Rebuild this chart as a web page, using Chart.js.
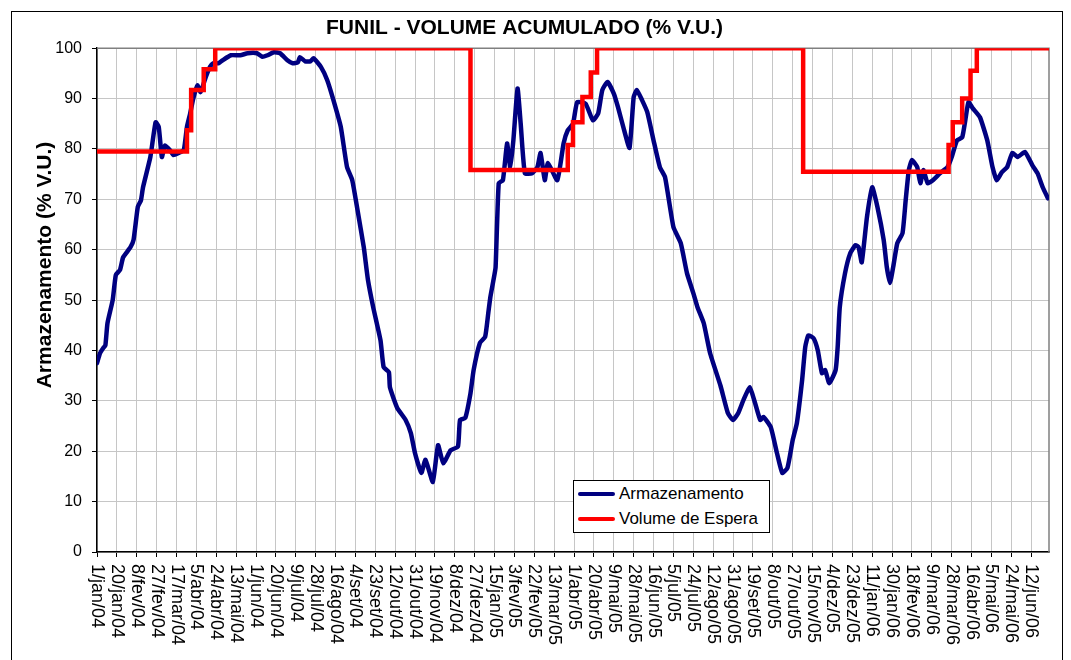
<!DOCTYPE html>
<html lang="pt">
<head>
<meta charset="utf-8">
<title>FUNIL - Volume Acumulado</title>
<script src="https://cdn.jsdelivr.net/npm/chart.js@4/dist/chart.umd.min.js"></script>
<style>
  html, body { margin: 0; padding: 0; background: #fff; }
  #wrap { position: relative; width: 1071px; height: 660px; overflow: hidden; }
  #frame {
    position: absolute; left: 11px; top: 11px; width: 1052px; height: 700px;
    border: 1px solid #000; box-sizing: border-box; pointer-events: none;
  }
  #legend {
    position: absolute; left: 573px; top: 480px; width: 197px; height: 53px;
    border: 1px solid #000; background: #fff; box-sizing: border-box;
    font: 17px Arial, "Liberation Sans", sans-serif; color: #000;
  }
  #legend .row { position: absolute; left: 4px; height: 22px; display: flex; align-items: center; white-space: nowrap; }
  #legend .swatch { width: 37px; height: 4px; margin-right: 4px; border-radius: 2px; }
</style>
</head>
<body>
<div id="wrap">
  <canvas id="chart" width="1071" height="660"></canvas>
  <div id="frame"></div>
  <div id="legend"></div>
</div>
<script>
// ─── Data ─────────────────────────────────────────────
// x values are days counted from 1/jan/04
const tickLabels = [
  '1/jan/04', '20/jan/04', '8/fev/04', '27/fev/04', '17/mar/04', '5/abr/04', '24/abr/04',
  '13/mai/04', '1/jun/04', '20/jun/04', '9/jul/04', '28/jul/04', '16/ago/04', '4/set/04',
  '23/set/04', '12/out/04', '31/out/04', '19/nov/04', '8/dez/04', '27/dez/04', '15/jan/05',
  '3/fev/05', '22/fev/05', '13/mar/05', '1/abr/05', '20/abr/05', '9/mai/05', '28/mai/05',
  '16/jun/05', '5/jul/05', '24/jul/05', '12/ago/05', '31/ago/05', '19/set/05', '8/out/05',
  '27/out/05', '15/nov/05', '4/dez/05', '23/dez/05', '11/jan/06', '30/jan/06', '18/fev/06',
  '9/mar/06', '28/mar/06', '16/abr/06', '5/mai/06', '24/mai/06', '12/jun/06'
];
const tickStepDays = 19;
const lastDay = 910;

const storageDays = [
  0, 3, 6, 8, 10, 15, 18, 22, 25, 32, 35, 39, 42, 44, 51, 56, 59, 62, 65, 70, 73, 78, 83, 86, 89,
  92, 96, 99, 104, 108, 111, 116, 120, 128, 137, 144, 153, 158, 163, 169, 175, 182, 187, 192, 194,
  199, 204, 207, 214, 220, 226, 233, 239, 244, 249, 255, 259, 264, 271, 274, 279, 280, 287, 295,
  300, 304, 310, 314, 321, 326, 331, 338, 345, 347, 352, 357, 360, 366, 371, 374, 376, 379, 381,
  384, 388, 392, 395, 398, 402, 405, 409, 416, 421, 424, 428, 431, 440, 446, 450, 455, 459, 467,
  474, 479, 483, 488, 494, 498, 503, 509, 513, 516, 521, 526, 532, 538, 543, 551, 558, 564, 570,
  574, 580, 586, 596, 603, 608, 613, 618, 624, 629, 634, 637, 644, 650, 655, 660, 665, 669, 674,
  677, 680, 685, 689, 693, 696, 700, 706, 708, 710, 715, 720, 725, 728, 731, 736, 741, 746, 752,
  755, 758, 761, 765, 770, 773, 776, 779, 784, 787, 790, 794, 799, 806, 813, 817, 822, 827, 830,
  833, 837, 844, 851, 856, 860, 865, 870, 875, 880, 887, 894, 899, 904, 909
];
const storageValues = [
  37.5, 39.5, 40.5, 41, 45.4, 50, 55, 56, 58.5, 60.5, 62, 68.5, 69.8, 72.4, 78.4, 85.3, 84.4, 78.4, 80.7, 79.7, 78.8, 79.2, 79.8, 84.4, 87,
  90, 92.6, 91.3, 94.3, 96.3, 97, 97, 97.6, 98.6, 98.6, 99, 99, 98.3, 98.6, 99.2, 99, 97.6, 97, 97.2, 98.2,
  97.4, 97.4, 98, 96.3, 93.7, 89.7, 84.4, 76.4, 73.8, 67.9, 60.5, 54, 48.6, 42, 36.7, 35.7, 32.7, 28.6, 26.2,
  23.6, 19.6, 15.7, 18.3, 13.9, 21.2, 17.6, 20.2, 20.9, 26.2, 26.6, 31.5, 36.1, 41.5, 42.7, 47.4, 50.6, 54, 56.5,
  73.2, 73.8, 81.1, 76.4, 81.7, 92, 85, 75.2, 75.2, 76.4, 79.2, 73.8, 77.2, 73.8, 81.1, 83.7, 85, 89.3, 89,
  85.7, 87, 91.7, 93.3, 91, 88.3, 84.4, 80.2, 90.3, 91.7, 89.7, 87.3, 81.7, 76.4, 74.4, 64.5, 61.3, 55.3, 51.4,
  48.6, 45.4, 39.5, 33, 27.6, 26.2, 27.6, 30.2, 32.7, 29.6, 26.2, 26.8, 24.8, 19.6, 15.7, 16.7, 22.2, 25.6, 34.1,
  40.7, 43, 42.4, 40, 35.5, 36.1, 33.5, 36.1, 40.7, 48.6, 55.3, 59.3, 60.9, 60.5, 57.5, 66.5, 72.4, 68.5, 61.9,
  56.5, 53.4, 56.5, 61.3, 63.3, 69.8, 75.8, 77.8, 76.4, 73.2, 75.8, 73.2, 73.8, 75.2, 76.4, 78.4, 81.7, 82.3, 85.7,
  89.3, 88.1, 86.3, 81.7, 76.4, 73.8, 75.4, 76.4, 79.2, 78.4, 79.4, 76.8, 75.2, 72.4, 70.2
];

const esperaDays   = [0, 86, 90, 102, 113, 357, 450, 455, 464, 472, 478, 675, 814, 818, 827, 835, 841, 910];
const esperaValues = [79.5, 83.7, 91.7, 95.8, 100, 75.8, 80.8, 85.3, 90.3, 95.2, 100, 75.5, 80.8, 85.3, 90, 95.5, 100, 100];

// ─── Styling ──────────────────────────────────────────
const FONT = 'Arial, "Liberation Sans", sans-serif';
const NAVY = '#000080';
const RED  = '#ff0000';
const GRID = '#c6c6c6';

const toPoints = (xs, ys) => xs.map((x, i) => ({ x, y: ys[i] }));

// ─── Plugins ──────────────────────────────────────────
const plotFrame = {
    id: 'plotFrame',
    beforeDatasetsDraw(chart) {
        const { ctx, chartArea: a } = chart;
        ctx.save();
        ctx.strokeStyle = '#808080';
        ctx.lineWidth = 1.5;
        ctx.beginPath();
        ctx.moveTo(a.left, a.top);
        ctx.lineTo(a.right, a.top);
        ctx.lineTo(a.right, a.bottom);
        ctx.stroke();
        ctx.restore();
    },
};

const axisText = {
    id: 'axisText',
    afterDraw(chart) {
        const { ctx, chartArea: a, scales } = chart;
        ctx.save();
        ctx.fillStyle = '#000';

        // x labels, reading top to bottom
        ctx.font = `18px ${FONT}`;
        ctx.textAlign = 'left';
        ctx.textBaseline = 'middle';
        scales.x.ticks.forEach((t, i) => {
            const x = scales.x.getPixelForValue(t.value);
            ctx.save();
            ctx.translate(x, a.bottom + 12);
            ctx.rotate(Math.PI / 2);
            ctx.fillText(tickLabels[i], 0, 0);
            ctx.restore();
        });

        // y title
        ctx.font = `bold 21px ${FONT}`;
        ctx.textAlign = 'center';
        ctx.translate(45, 265);
        ctx.rotate(-Math.PI / 2);
        ctx.fillText('Armazenamento (% V.U.)', 0, 0);
        ctx.restore();
    },
};

// ─── Chart ────────────────────────────────────────────
const chart = new Chart(document.getElementById('chart'), {
    type: 'line',
    data: {
        datasets: [
            {
                label: 'Armazenamento',
                data: toPoints(storageDays, storageValues),
                borderColor: NAVY,
                borderWidth: 4.5,
                pointRadius: 0,
                tension: 0.15,
                borderJoinStyle: 'round',
                borderCapStyle: 'round',
                order: 1,
            },
            {
                label: 'Volume de Espera',
                data: toPoints(esperaDays, esperaValues),
                borderColor: RED,
                borderWidth: 4.5,
                pointRadius: 0,
                stepped: 'before',
                borderJoinStyle: 'miter',
                order: 0,
            },
        ],
    },
    options: {
        responsive: false,
        animation: false,
        events: [],
        layout: { padding: { left: 0, right: 22, top: 0, bottom: 0 } },
        scales: {
            x: {
                type: 'linear',
                min: 0,
                max: lastDay,
                afterBuildTicks(scale) {
                    scale.ticks = tickLabels.map((_, i) => ({ value: i * tickStepDays }));
                },
                ticks: { display: false, autoSkip: false },
                grid: { color: GRID, tickColor: '#000', tickLength: 5, lineWidth: 1 },
                border: { color: '#000', width: 1.5 },
                afterFit(scale) { scale.height = 108; },
            },
            y: {
                min: 0,
                max: 100,
                ticks: { stepSize: 10, color: '#000', padding: 10, font: { family: FONT, size: 16 } },
                grid: { color: GRID, tickColor: '#000', tickLength: 5, lineWidth: 1 },
                border: { color: '#000', width: 1.5 },
                afterFit(scale) { scale.width = 97; },
            },
        },
        plugins: {
            legend: { display: false },
            tooltip: { enabled: false },
            title: {
                display: true,
                text: 'FUNIL - VOLUME ACUMULADO (% V.U.)',
                color: '#000',
                font: { family: FONT, size: 21, weight: 'bold' },
                padding: { top: 16, bottom: 7 },
            },
        },
    },
    plugins: [plotFrame, axisText],
});

// ─── Legend ───────────────────────────────────────────
const legendEl = document.getElementById('legend');
chart.data.datasets.forEach((ds, i) => {
    const row = document.createElement('div');
    row.className = 'row';
    row.style.top = (2 + i * 25) + 'px';
    row.innerHTML = `<span class="swatch" style="background:${ds.borderColor}"></span><span>${ds.label}</span>`;
    legendEl.appendChild(row);
});
</script>
</body>
</html>
